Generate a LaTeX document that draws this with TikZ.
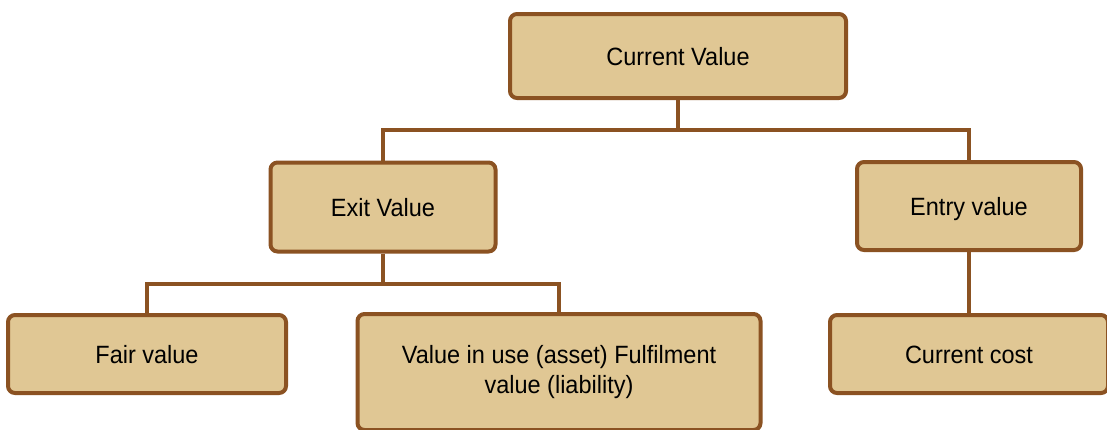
\documentclass[tikz,border=0pt]{standalone}
\usepackage{fontspec}
\setmainfont{Liberation Sans}[FakeStretch=0.94]
\definecolor{bfill}{HTML}{E0C794}
\definecolor{bline}{HTML}{8B5222}
\begin{document}
\begin{tikzpicture}[x=1pt,y=-1pt,
  box/.style={draw=bline, fill=bfill, line width=4pt, rounded corners=7pt,
    align=center, font=\fontsize{25}{30}\selectfont, inner sep=0pt},
  onel/.style={text height=20pt, text depth=2pt},
  conn/.style={draw=bline, line width=4pt}]
\useasboundingbox (0,0) rectangle (1107,429);
\clip (0,0) rectangle (1107,429);
\fill[white] (0,0) rectangle (1107,429);
\node[box, onel, minimum width=336, minimum height=84] (cv) at (678,56) {Current Value};
\node[box, onel, minimum width=225, minimum height=89] (ex) at (383,207) {Exit Value};
\node[box, onel, minimum width=224, minimum height=88] (en) at (969,206) {Entry value};
\node[box, onel, minimum width=278, minimum height=78] (fv) at (147,354) {Fair value};
\node[box, minimum width=403, minimum height=116] (vu) at (559,372) {Value in use (asset) Fulfilment\\value (liability)};
\node[box, onel, minimum width=278, minimum height=78] (cc) at (969,354) {Current cost};
\coordinate (j1) at (678,130);
\coordinate (j2) at (383,284);
\draw[conn] (cv.south) -- (j1) -| (ex.north);
\draw[conn] (j1) -| (en.north);
\draw[conn] (ex.south) -- (j2) -| (fv.north);
\draw[conn] (j2) -| (vu.north);
\draw[conn] (en.south) -- (cc.north);
\end{tikzpicture}
\end{document}
